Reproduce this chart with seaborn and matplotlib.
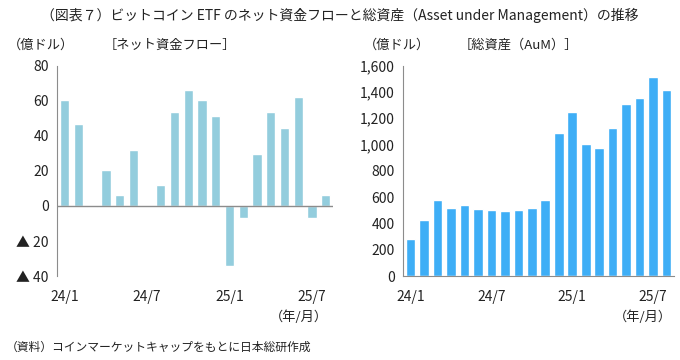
import numpy as np
import pandas as pd
import matplotlib
matplotlib.use("Agg")
import matplotlib.pyplot as plt
import seaborn as sns

sns.set_style("white")
plt.rcParams['font.family'] = ['Noto Sans CJK JP', 'DejaVu Sans']

# months 24/1 .. 25/8
months = ["24/1", "24/2", "24/3", "24/4", "24/5", "24/6", "24/7", "24/8", "24/9", "24/10",
          "24/11", "24/12", "25/1", "25/2", "25/3", "25/4", "25/5", "25/6", "25/7", "25/8"]
net_flow = [60.5, 46.5, -0.5, 20.5, 6.5, 32, -0.3, 12, 53.5, 66,
            60.5, 51, -34, -7, 29.5, 53.5, 44.5, 62, -7, 6.5]
aum = [280, 425, 580, 520, 538, 510, 500, 495, 505, 520,
       578, 1090, 1248, 1000, 975, 1125, 1310, 1355, 1515, 1415]
shown_months = ["24/1", "24/7", "25/1", "25/7"]

flow_ticks = [80, 60, 40, 20, 0, -20, -40]
flow_labels = ["80", "60", "40", "20", "0", "▲ 20", "▲ 40"]
aum_ticks = [0, 200, 400, 600, 800, 1000, 1200, 1400, 1600]

df = pd.DataFrame({"month": months, "flow": net_flow, "aum": aum})

fig = plt.figure(figsize=(6.8, 3.6), dpi=100)
ax1 = fig.add_axes([0.084, 0.233, 0.406, 0.585])
ax2 = fig.add_axes([0.593, 0.233, 0.398, 0.585])

axis_col = "#8c8c8c"
text_col = "#222222"

sns.barplot(data=df, x="month", y="flow", color="#93cddd", saturation=1,
            width=0.68, ax=ax1)
sns.barplot(data=df, x="month", y="aum", color="#3eaef6", saturation=1,
            width=0.72, ax=ax2)

idx = [months.index(m) for m in shown_months]

ax1.set_ylim(-40, 80)
ax1.set_yticks(flow_ticks)
ax1.set_yticklabels(flow_labels)
ax1.axhline(0, color=axis_col, lw=1)
ax2.set_ylim(0, 1600)
ax2.set_yticks(aum_ticks)
ax2.set_yticklabels([f"{v:,}" for v in aum_ticks])

for ax in (ax1, ax2):
    ax.set_xlim(-0.55, len(months) - 0.45)
    ax.set_xticks(idx)
    ax.set_xticklabels(shown_months)
    ax.set_xlabel("")
    ax.set_ylabel("")
    for s in ("top", "right"):
        ax.spines[s].set_visible(False)
    ax.spines["left"].set_color(axis_col)
    ax.tick_params(axis="y", direction="in", length=3, color=axis_col,
                   labelsize=10, labelcolor=text_col, pad=6)
    ax.tick_params(axis="x", length=0, labelsize=10, labelcolor=text_col, pad=10)

ax1.spines["bottom"].set_visible(False)
ax2.spines["bottom"].set_color(axis_col)

fig.text(0.5, 0.958, "（図表７）ビットコイン ETF のネット資金フローと総資産（Asset under Management）の推移",
         ha="center", va="center", fontsize=10, color=text_col)
fig.text(0.012, 0.875, "（億ドル）", ha="left", va="center", fontsize=9.5, color=text_col)
fig.text(0.25, 0.875, "［ネット資金フロー］", ha="center", va="center", fontsize=9.5, color=text_col)
fig.text(0.535, 0.875, "（億ドル）", ha="left", va="center", fontsize=9.5, color=text_col)
fig.text(0.762, 0.875, "［総資産（AuM）］", ha="center", va="center", fontsize=9.5, color=text_col)
fig.text(0.44, 0.118, "（年/月）", ha="center", va="center", fontsize=9.5, color=text_col)
fig.text(0.945, 0.118, "（年/月）", ha="center", va="center", fontsize=9.5, color=text_col)
fig.text(0.008, 0.035, "（資料）コインマーケットキャップをもとに日本総研作成",
         ha="left", va="center", fontsize=8.5, color=text_col)

fig.savefig("out.png", dpi=100, facecolor="white")
